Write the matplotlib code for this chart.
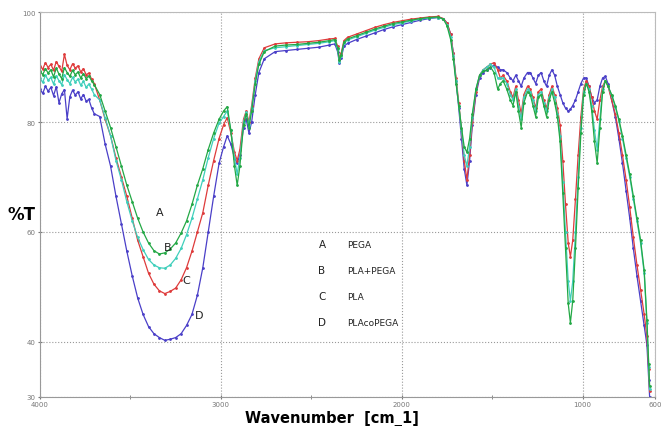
import matplotlib.pyplot as plt
import numpy as np

# wavenumber points shared by all four spectra (cm-1)
wn = [4000, 3985, 3970, 3955, 3940, 3925, 3910, 3895, 3880, 3865, 3850, 3835, 3820, 3805, 3790, 3775, 3760, 3745, 3730, 3715, 3700,
      3670, 3640, 3610, 3580, 3550, 3520, 3490, 3460, 3430, 3400, 3370, 3340, 3310, 3280, 3250, 3220, 3190, 3160, 3130, 3100, 3070, 3040, 3010,
      2985, 2965, 2945, 2925, 2910, 2895, 2875, 2860, 2845, 2830, 2810, 2790, 2760,
      2700, 2640, 2580, 2520, 2460, 2400, 2370, 2355, 2345, 2335, 2320, 2300, 2250, 2200, 2150, 2100, 2050, 2000, 1950, 1900, 1850, 1800,
      1770, 1750, 1730, 1715, 1700, 1685, 1670, 1655, 1640, 1625, 1610, 1590, 1570, 1550, 1530, 1510, 1490, 1470, 1455,
      1440, 1420, 1400, 1385, 1370, 1355, 1340, 1325, 1305, 1290, 1275, 1260, 1245, 1230, 1215, 1200, 1185, 1170, 1155,
      1140, 1125, 1110, 1095, 1080, 1068, 1055, 1040, 1025, 1010, 995, 980, 965, 950, 935, 920, 905, 890, 875, 860, 840, 820, 800, 780, 760, 740, 720, 700, 680, 660, 645, 635, 630]

# A - PEGA
t_a = [89.3, 88.6, 89.7, 88.9, 89.5, 88.2, 89.8, 88.7, 87.9, 89.9, 89.0, 88.3, 89.4, 88.6, 89.1, 88.0, 88.8, 87.9, 88.4, 87.5, 86.8,
       85.0, 82.0, 79.0, 75.5, 72.0, 68.5, 65.5, 62.5, 60.0, 58.0, 56.6, 56.0, 56.2, 56.9, 58.0, 59.8, 62.0, 65.0, 68.5, 71.5, 75.0, 78.0, 80.5,
       82.0, 82.8, 78.5, 72.0, 68.5, 72.0, 79.5, 81.5, 79.0, 82.0, 87.0, 90.5, 92.8,
       93.8, 94.0, 94.1, 94.3, 94.5, 94.8, 95.0, 93.5, 91.2, 92.2, 94.5, 95.1, 95.7, 96.3, 96.9, 97.4, 97.9, 98.2, 98.5, 98.8, 99.0, 99.1,
       98.7, 97.5, 95.0, 91.5, 87.0, 83.0, 79.0, 75.5, 74.5, 77.0, 81.5, 86.0, 88.5, 89.2, 89.5, 90.0, 89.0, 86.0, 87.0,
       87.5, 86.0, 84.0, 83.0, 85.5, 82.0, 79.0, 83.5, 85.5, 85.0, 83.0, 81.0, 84.5, 85.0, 83.0, 81.0, 84.0, 85.5, 83.5,
       81.0, 76.5, 67.0, 57.0, 47.0, 43.5, 47.5, 57.0, 68.0, 78.0, 85.0, 87.0, 85.5, 82.0, 76.5, 72.5, 79.0, 85.5, 87.5, 86.5,
       85.0, 83.0, 80.5, 77.5, 74.0, 70.5, 66.5, 62.5, 58.5, 53.0, 44.0, 36.0, 32.0]

# B - PLA+PEGA
t_b = [88.0, 87.2, 88.5, 87.6, 88.1, 86.9, 88.4, 87.5, 86.8, 88.6, 87.7, 87.0, 88.1, 87.3, 87.8, 86.7, 87.4, 86.3, 86.9, 86.0, 85.0,
       84.0, 80.8, 77.5, 73.0, 69.5, 65.5, 62.0, 59.0, 56.8, 55.0, 54.0, 53.5, 53.4, 54.0, 55.2, 57.0, 59.5, 62.5, 66.0, 69.5, 73.5, 77.0, 79.8,
       81.0, 82.0, 78.5, 73.5, 70.5, 73.5, 80.0, 81.8, 79.5, 82.5, 87.5, 91.0, 93.0,
       93.5, 93.7, 93.9, 94.1, 94.3, 94.6, 94.8, 93.3, 91.0, 92.0, 94.3, 94.9, 95.5, 96.1, 96.7, 97.2, 97.7, 98.0, 98.4, 98.7, 98.9, 99.0,
       98.7, 97.7, 95.5, 92.0, 87.5, 83.0, 78.5, 74.0, 72.0, 75.5, 81.0, 86.0, 88.5, 89.5, 90.0, 90.5, 90.0, 88.0, 88.0,
       88.0, 87.0, 85.0, 84.0, 86.0, 83.0, 80.5, 84.5, 86.0, 85.5, 84.0, 82.0, 85.0, 85.5, 83.5, 82.0, 84.5, 86.0, 84.5,
       81.5, 77.5, 69.0, 60.0, 51.0, 47.5, 51.0, 60.0, 70.0, 79.0, 85.5, 87.0, 86.0, 83.0, 78.5, 75.0, 80.5, 86.0, 87.5, 86.5,
       84.8, 82.8, 80.2, 77.0, 73.5, 70.0, 66.0, 62.0, 58.0, 52.5, 43.5, 35.5, 31.5]

# C - PLA
t_c = [90.2, 89.6, 90.8, 89.9, 90.5, 89.4, 91.0, 90.1, 89.2, 92.3, 90.3, 89.5, 90.6, 89.8, 90.2, 89.1, 89.7, 88.6, 88.9, 87.8, 87.0,
       84.0, 80.5, 77.5, 73.5, 70.0, 66.5, 62.5, 58.5, 55.5, 52.5, 50.5, 49.3, 48.8, 49.2, 49.8, 51.3, 53.5, 56.5, 60.0, 63.5, 68.5, 73.0, 77.0,
       79.5, 80.8, 78.0, 74.5, 73.0, 75.0, 80.5, 82.0, 80.0, 83.0, 88.0, 91.5, 93.5,
       94.2, 94.4, 94.5, 94.6, 94.8, 95.1, 95.2, 93.8, 91.5, 92.5, 94.8, 95.4, 96.0, 96.6, 97.2, 97.7, 98.1, 98.4, 98.7, 98.9, 99.1, 99.2,
       98.8, 98.0, 96.0, 92.5, 88.0, 83.5, 78.5, 73.0, 69.5, 74.0, 80.0, 85.5, 88.5, 89.5, 90.0, 90.5, 90.8, 89.5, 88.0,
       88.5, 87.5, 85.5, 84.5, 86.5, 84.0, 81.5, 85.0, 86.5, 86.0, 84.5, 82.5, 85.5, 86.0, 84.0, 82.5, 85.0, 86.5, 85.0,
       82.5, 79.5, 73.0, 65.0, 58.0, 55.5, 58.5, 66.0, 74.0, 81.0, 86.0, 87.5, 86.5, 84.5, 82.0, 80.5, 84.0, 86.5, 87.5, 86.5,
       84.0, 81.5, 78.0, 74.0, 69.5, 64.5, 59.0, 54.0, 49.5, 45.0, 41.0, 35.0, 31.0]

# D - PLAcoPEGA
t_d = [86.0, 85.2, 86.5, 85.6, 86.3, 84.8, 86.4, 83.5, 85.1, 85.9, 80.6, 84.6, 85.8, 84.9, 85.5, 84.2, 85.0, 83.8, 84.1, 82.6, 81.5,
       81.0, 76.0, 72.0, 66.5, 61.5, 56.5, 52.0, 48.0, 45.0, 42.8, 41.5, 40.8, 40.3, 40.5, 40.8, 41.5, 43.0, 45.0, 48.5, 53.5, 60.0, 66.5, 72.5,
       75.5, 77.5, 76.0, 73.5, 72.5, 74.0, 79.0, 80.5, 78.0, 80.0, 85.0, 89.0, 91.5,
       92.8, 93.0, 93.2, 93.4, 93.6, 94.0, 94.2, 92.8, 90.8, 91.6, 93.8, 94.3, 95.0, 95.6, 96.2, 96.8, 97.3, 97.7, 98.1, 98.5, 98.8, 99.0,
       98.8, 98.0, 96.0, 92.5, 87.5, 82.5, 77.0, 71.5, 68.5, 73.0, 79.5, 85.0, 88.0, 89.0, 89.5, 89.8, 90.3, 90.0, 89.5,
       89.5, 89.0, 88.0, 87.5, 88.5, 87.5, 86.5, 88.0, 89.0, 89.0, 88.0, 87.0, 88.5, 89.0, 87.5, 86.5, 88.5, 89.5, 88.5,
       86.5, 85.0, 83.5, 82.5, 82.0, 82.3, 83.0, 84.0, 85.5, 87.0, 88.0, 88.0, 86.5, 84.5, 83.5, 84.0, 86.5, 88.0, 88.3, 87.0,
       84.0, 81.0, 77.0, 72.5, 67.5, 62.5, 57.0, 52.0, 47.5, 43.0, 39.5, 33.0, 30.0]

series = ['A', 'B', 'C', 'D']
names = ['PEGA', 'PLA+PEGA', 'PLA', 'PLAcoPEGA']
colores = ['#23a845', '#3fcfbb', '#de3b3b', '#4a3fc8']
# where the letters sit next to the curves
letra_x = [3337, 3292, 3193, 3121]
letra_y = [63.6, 57.3, 51.3, 44.9]

fig = plt.figure(figsize=(6.61, 4.27), dpi=100)
ax = fig.add_axes([0.0605, 0.068, 0.9305, 0.9015])

datos = [t_a, t_b, t_c, t_d]
for i in [3, 2, 1, 0]:
	ax.plot(wn, datos[i], color=colores[i], lw=0.9, marker='.', ms=2.0)

ax.set_xlim(4000, 600)
ax.set_ylim(30, 100)
ax.set_xticks([4000, 3000, 2000, 1000, 600])
ax.set_xticks([3500, 2500, 1500], minor=True)
ax.set_yticks([30, 40, 60, 80, 100])
ax.tick_params(labelsize=5, colors='#777777', direction='inout', length=3, pad=1.5)
ax.tick_params(which='minor', direction='inout', length=3, color='#777777')
ax.grid(True, ls=':', color='#999999', lw=0.8)
for s in ax.spines.values():
	s.set_color('#bbbbbb')
ax.spines['left'].set_color('#999999')
ax.spines['bottom'].set_color('#999999')

# letters on the curves
for i in range(4):
	ax.text(letra_x[i], letra_y[i], series[i], fontsize=8, color='#222222', ha='center', va='center')

# legend written as text
for i in range(4):
	yy = 57.8 - i * 4.75
	ax.text(2441, yy, series[i], fontsize=7.5, color='#222222', ha='center', va='center')
	ax.text(2303, yy, names[i], fontsize=6.5, color='#222222', ha='left', va='center')

fig.text(22 / 661, 1 - 215 / 427, '%T', fontsize=12, fontweight='bold', ha='center', va='center')
fig.text(332 / 661, 1 - 419 / 427, 'Wavenumber  [cm_1]', fontsize=10.5, fontweight='bold', ha='center', va='center')

plt.savefig('out.png', dpi=100)
